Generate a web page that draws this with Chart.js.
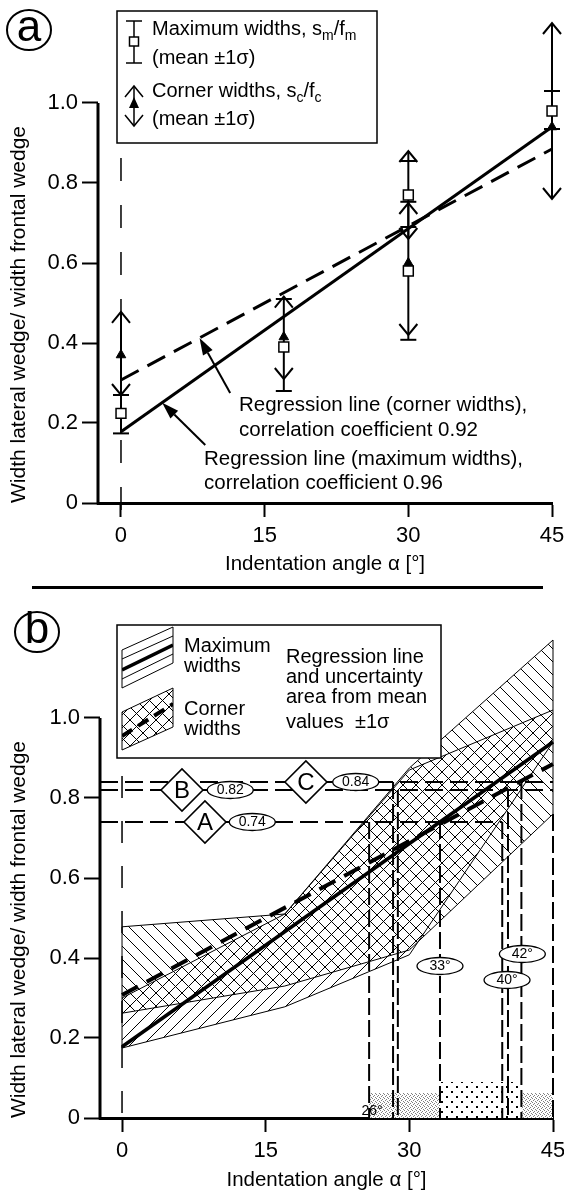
<!DOCTYPE html>
<html>
<head>
<meta charset="utf-8">
<title>Width ratio vs indentation angle</title>
<script src="https://cdn.jsdelivr.net/npm/chart.js@4.4.1/dist/chart.umd.min.js"></script>
<style>
  html, body { margin: 0; padding: 0; background: #fff; }
  body { position: relative; width: 564px; height: 1193px; overflow: hidden; }
  canvas { position: absolute; left: 0; }
  #ca { top: 0; }
  #cb { top: 590px; }
  #rule { position: absolute; left: 32px; top: 586px; width: 511px; height: 3px; background: #000; }
</style>
</head>
<body>
<canvas id="ca" width="564" height="590"></canvas>
<div id="rule"></div>
<canvas id="cb" width="564" height="603"></canvas>
<script>
const FONT = "'Liberation Sans', Arial, Helvetica, sans-serif";
Chart.defaults.font.family = FONT;
Chart.defaults.color = "#000";

// axes
const xTicks = [0, 15, 30, 45];
const yTicks = [0, 0.2, 0.4, 0.6, 0.8, 1.0];

// (a) mean and +-1 sigma per experiment
const angles = [0, 17, 30, 30, 45];
const maxMean = [0.224, 0.39, 0.77, 0.58, 0.98];
const maxLow = [0.174, 0.28, 0.69, 0.408, 0.935];
const maxHigh = [0.27, 0.51, 0.855, 0.753, 1.03];
const cornerMean = [0.37, 0.415, 0.77, 0.6, 0.94];
const cornerLow = [0.27, 0.31, 0.66, 0.42, 0.76];
const cornerHigh = [0.478, 0.516, 0.88, 0.75, 1.2];

// regression lines
const regAngles = [0, 45];
const regMax = [0.178, 0.94];
const regCorner = [0.3075, 0.885];

// (b) uncertainty areas
const bandAngles = [0, 17, 30, 45];
const maxBandHigh = [0.3, 0.51, 0.87, 1.02];
const maxBandLow = [0.175, 0.278, 0.408, 0.94];
const cornerBandHigh = [0.478, 0.51, 0.875, 1.195];
const cornerBandLow = [0.262, 0.33, 0.42, 0.76];

// (b) readings
const levelNames = ["A", "B", "C"];
const levelValues = [0.74, 0.82, 0.84];
const levelEnds = [39.7, 45, 45];
const cutAngles = [25.8, 28.3, 28.8, 33.2, 39.7, 40.3, 41.7, 45];
const cutTops = [0.74, 0.84, 0.82, 0.74, 0.74, 0.82, 0.84, 0.76];
const rangeStarts = [25.8, 33.2, 41.7];
const rangeEnds = [33.2, 41.7, 45];
const rangeHeights = [0.0625, 0.09, 0.0625];

function pts(xs, ys) {
  return xs.map((x, i) => ({ x: x, y: ys[i] }));
}

function seg(ctx, x0, y0, x1, y1) {
  ctx.beginPath();
  ctx.moveTo(x0, y0);
  ctx.lineTo(x1, y1);
  ctx.stroke();
}

function chevron(ctx, x, y, dir) {
  // dir -1 points up, +1 points down
  ctx.beginPath();
  ctx.moveTo(x - 9, y - dir * 11);
  ctx.lineTo(x, y);
  ctx.lineTo(x + 9, y - dir * 11);
  ctx.stroke();
}

function arrow(ctx, x0, y0, x1, y1) {
  const ang = Math.atan2(y1 - y0, x1 - x0);
  const L = 17, W = 5.5;
  const bx = x1 - L * Math.cos(ang), by = y1 - L * Math.sin(ang);
  seg(ctx, x0, y0, bx, by);
  ctx.beginPath();
  ctx.moveTo(x1, y1);
  ctx.lineTo(bx + W * Math.sin(ang), by - W * Math.cos(ang));
  ctx.lineTo(bx - W * Math.sin(ang), by + W * Math.cos(ang));
  ctx.closePath();
  ctx.fill();
}

function circled(ctx, letter, cx, cy) {
  ctx.save();
  ctx.strokeStyle = "#000";
  ctx.fillStyle = "#000";
  ctx.lineWidth = 2;
  ctx.beginPath();
  ctx.ellipse(cx, cy, 22, 20, 0, 0, Math.PI * 2);
  ctx.stroke();
  ctx.font = "44px " + FONT;
  ctx.textAlign = "center";
  ctx.textBaseline = "middle";
  ctx.fillText(letter, cx, cy - 1);
  ctx.restore();
}

function parts(ctx, list, x, y, size) {
  for (const [t, sub] of list) {
    ctx.font = (sub ? 14 : size) + "px " + FONT;
    ctx.fillText(t, x, sub ? y + 5 : y);
    x += ctx.measureText(t).width;
  }
}

function oval(ctx, text, cx, cy) {
  ctx.beginPath();
  ctx.ellipse(cx, cy, 23, 8.5, 0, 0, Math.PI * 2);
  ctx.fillStyle = "#fff";
  ctx.fill();
  ctx.lineWidth = 1.3;
  ctx.stroke();
  ctx.fillStyle = "#000";
  ctx.font = "14px " + FONT;
  ctx.textAlign = "center";
  ctx.textBaseline = "middle";
  ctx.fillText(text, cx, cy + 0.5);
}

function diamond(ctx, text, cx, cy) {
  const h = 21;
  ctx.beginPath();
  ctx.moveTo(cx - h, cy);
  ctx.lineTo(cx, cy - h);
  ctx.lineTo(cx + h, cy);
  ctx.lineTo(cx, cy + h);
  ctx.closePath();
  ctx.fillStyle = "#fff";
  ctx.fill();
  ctx.lineWidth = 1.6;
  ctx.stroke();
  ctx.fillStyle = "#000";
  ctx.font = "24px " + FONT;
  ctx.textAlign = "center";
  ctx.textBaseline = "middle";
  ctx.fillText(text, cx, cy + 1);
}

function tile(size, draw) {
  const c = document.createElement("canvas");
  c.width = size;
  c.height = size;
  const g = c.getContext("2d");
  draw(g, size);
  return g.createPattern(c, "repeat");
}

function hatch(up) {
  return tile(13, (g, s) => {
    g.strokeStyle = "#000";
    g.lineWidth = 1;
    g.beginPath();
    for (const o of [-s, 0, s]) {
      if (up) { g.moveTo(o, s); g.lineTo(o + s, 0); }
      else { g.moveTo(o, 0); g.lineTo(o + s, s); }
    }
    g.stroke();
  });
}

const fwdHatch = hatch(true);
const backHatch = hatch(false);
const greyDots = tile(4, (g) => {
  g.fillStyle = "#fff";
  g.fillRect(0, 0, 4, 4);
  g.fillStyle = "#808080";
  [[0, 0], [2, 1], [1, 2], [3, 3]].forEach(([a, b]) => g.fillRect(a, b, 1, 1));
});
const blackDots = tile(10, (g) => {
  g.fillStyle = "#fff";
  g.fillRect(0, 0, 10, 10);
  g.fillStyle = "#000";
  g.fillRect(1, 1, 2, 2);
  g.fillRect(6, 6, 2, 2);
});

function scales(xMin, axisWidth, axisHeight, titlePad) {
  return {
    x: {
      type: "linear",
      min: xMin,
      max: 45,
      afterBuildTicks: (s) => { s.ticks = xTicks.map((v) => ({ value: v })); },
      afterFit: (s) => { s.height = axisHeight; s.paddingLeft = 0; s.paddingRight = 0; },
      ticks: { autoSkip: false, maxRotation: 0, padding: 6, font: { size: 22 }, callback: (v) => String(v) },
      grid: { drawOnChartArea: false, tickLength: 14, tickWidth: 2, tickColor: "#000" },
      border: { display: true, width: 3, color: "#000" },
      title: { display: true, text: "Indentation angle α [°]", font: { size: 20.5 }, padding: { top: 0, bottom: titlePad } },
    },
    y: {
      type: "linear",
      min: 0,
      max: 1.2,
      afterBuildTicks: (s) => { s.ticks = yTicks.map((v) => ({ value: v })); },
      afterFit: (s) => { s.width = axisWidth; },
      ticks: { autoSkip: false, padding: 4, font: { size: 22 }, callback: (v) => (v === 0 ? "0" : v.toFixed(1)) },
      grid: { drawOnChartArea: false, tickLength: 16, tickWidth: 2, tickColor: "#000" },
      border: { display: false },
      title: { display: true, text: "Width lateral wedge/ width frontal wedge", align: "start", font: { size: 21 }, padding: { top: 7, bottom: 0 } },
    },
  };
}

function options(pad, sc) {
  return {
    responsive: false,
    animation: false,
    events: [],
    layout: { padding: pad },
    plugins: { legend: { display: false }, tooltip: { enabled: false } },
    elements: { point: { radius: 0 }, line: { tension: 0, borderColor: "#000" } },
    scales: sc,
  };
}

function lineSet(data, width, dash, extra) {
  return Object.assign({
    data: data,
    borderColor: "#000",
    borderWidth: width,
    borderDash: dash,
    pointRadius: 0,
    fill: false,
    clip: false,
  }, extra || {});
}

function yAxisLine(chart) {
  const { ctx, scales: { x, y } } = chart;
  ctx.save();
  ctx.strokeStyle = "#000";
  ctx.lineWidth = 3;
  seg(ctx, x.left, y.getPixelForValue(0) + 1.5, x.left, y.getPixelForValue(yTicks[yTicks.length - 1]));
  ctx.restore();
}

// ---------- panel a ----------
const panelA = {
  id: "panelA",
  beforeDatasetsDraw(chart) {
    const { ctx, scales: { x, y } } = chart;
    yAxisLine(chart);
    ctx.save();
    ctx.strokeStyle = "#000";
    ctx.lineWidth = 2;
    angles.forEach((a, i) => {
      const px = x.getPixelForValue(a);
      const lo = Math.min(maxLow[i], cornerLow[i]);
      const hi = Math.max(maxHigh[i], cornerHigh[i]);
      seg(ctx, px, y.getPixelForValue(lo), px, y.getPixelForValue(hi));
      seg(ctx, px - 8, y.getPixelForValue(maxLow[i]), px + 8, y.getPixelForValue(maxLow[i]));
      seg(ctx, px - 8, y.getPixelForValue(maxHigh[i]), px + 8, y.getPixelForValue(maxHigh[i]));
      chevron(ctx, px, y.getPixelForValue(cornerHigh[i]), -1);
      chevron(ctx, px, y.getPixelForValue(cornerLow[i]), 1);
    });
    ctx.restore();
  },
  afterDatasetsDraw(chart) {
    const { ctx, scales: { x, y } } = chart;
    ctx.save();
    ctx.strokeStyle = "#000";
    ctx.fillStyle = "#000";

    // pointer arrows to the regression lines
    const at = (vals, a) => vals[0] + (vals[1] - vals[0]) * (a - regAngles[0]) / (regAngles[1] - regAngles[0]);
    ctx.lineWidth = 2;
    arrow(ctx, x.getPixelForValue(11.4), y.getPixelForValue(0.275), x.getPixelForValue(8.2), y.getPixelForValue(at(regCorner, 8.2)));
    arrow(ctx, x.getPixelForValue(8.8), y.getPixelForValue(0.145), x.getPixelForValue(4.3), y.getPixelForValue(at(regMax, 4.3)));

    ctx.font = "20.5px " + FONT;
    ctx.textAlign = "left";
    ctx.textBaseline = "alphabetic";
    ctx.fillText("Regression line (corner widths),", 239, 411);
    ctx.fillText("correlation coefficient 0.92", 239, 436);
    ctx.fillText("Regression line (maximum widths),", 204, 465);
    ctx.fillText("correlation coefficient 0.96", 204, 489);

    // legend
    ctx.fillStyle = "#fff";
    ctx.fillRect(117, 11, 260, 132);
    ctx.lineWidth = 1.5;
    ctx.strokeRect(117, 11, 260, 132);
    const ix = 134;
    seg(ctx, ix, 21, ix, 63);
    seg(ctx, ix - 8, 21, ix + 8, 21);
    seg(ctx, ix - 8, 63, ix + 8, 63);
    ctx.fillRect(ix - 4.5, 37, 9, 9);
    ctx.strokeRect(ix - 4.5, 37, 9, 9);
    seg(ctx, ix, 86, ix, 126);
    chevron(ctx, ix, 86, -1);
    chevron(ctx, ix, 126, 1);
    ctx.fillStyle = "#000";
    ctx.beginPath();
    ctx.moveTo(ix, 97);
    ctx.lineTo(ix + 5, 108);
    ctx.lineTo(ix - 5, 108);
    ctx.closePath();
    ctx.fill();
    parts(ctx, [["Maximum widths, s", false], ["m", true], ["/f", false], ["m", true]], 152, 35, 20);
    parts(ctx, [["(mean ±1σ)", false]], 152, 64, 20);
    parts(ctx, [["Corner widths, s", false], ["c", true], ["/f", false], ["c", true]], 152, 97, 20);
    parts(ctx, [["(mean ±1σ)", false]], 152, 125, 20);
    ctx.restore();
    circled(ctx, "a", 29, 30);
  },
};

new Chart(document.getElementById("ca"), {
  type: "line",
  data: {
    datasets: [
      { data: pts(angles, maxMean), showLine: false, pointStyle: "rect", pointRadius: 7, pointBackgroundColor: "#fff", pointBorderColor: "#000", pointBorderWidth: 1.5, clip: false, order: 0 },
      { data: pts(angles, cornerMean), showLine: false, pointStyle: "triangle", pointRadius: 5.5, pointBackgroundColor: "#000", pointBorderColor: "#000", pointBorderWidth: 1, clip: false, order: 1 },
      lineSet(pts(regAngles, regMax), 3, [], { order: 2 }),
      lineSet(pts(regAngles, regCorner), 3, [20, 10], { order: 3 }),
      lineSet(pts([0, 0], [0.8625, -0.05]), 1.5, [23, 24], { order: 4 }),
    ],
  },
  options: options({ left: 0, right: 12, top: 23, bottom: 0 }, scales(-2.4, 98, 87, 13)),
  plugins: [panelA],
});

// ---------- panel b ----------
const xMinB = -2.3;

const panelB = {
  id: "panelB",
  beforeDatasetsDraw(chart) {
    yAxisLine(chart);
  },
  afterDatasetsDraw(chart) {
    const { ctx, scales: { x, y } } = chart;
    ctx.save();
    ctx.strokeStyle = "#000";

    const diamondAt = [8.66, 6.26, 19.2];
    const valueAt = [13.6, 11.3, 24.4];
    levelNames.forEach((n, i) => {
      const py = y.getPixelForValue(levelValues[i]);
      diamond(ctx, n, x.getPixelForValue(diamondAt[i]), py);
      oval(ctx, levelValues[i].toFixed(2), x.getPixelForValue(valueAt[i]), py);
    });

    oval(ctx, "33°", x.getPixelForValue(33.2), y.getPixelForValue(0.38));
    oval(ctx, "42°", x.getPixelForValue(41.8), y.getPixelForValue(0.41));
    oval(ctx, "40°", x.getPixelForValue(40.2), y.getPixelForValue(0.345));
    ctx.fillStyle = "#000";
    ctx.font = "14px " + FONT;
    ctx.textAlign = "center";
    ctx.textBaseline = "alphabetic";
    ctx.fillText("26°", x.getPixelForValue(26.1), y.getPixelForValue(0.008));

    // legend
    ctx.fillStyle = "#fff";
    ctx.fillRect(117, 35, 324, 133);
    ctx.lineWidth = 1.5;
    ctx.strokeRect(117, 35, 324, 133);

    const quad = (p) => {
      ctx.beginPath();
      ctx.moveTo(p[0][0], p[0][1]);
      for (let i = 1; i < p.length; i++) ctx.lineTo(p[i][0], p[i][1]);
      ctx.closePath();
    };
    const maxIcon = [[122, 60], [173, 37], [173, 73], [122, 98]];
    quad(maxIcon);
    ctx.lineWidth = 1;
    ctx.stroke();
    ctx.save();
    quad(maxIcon);
    ctx.clip();
    seg(ctx, 122, 69, 173, 46);
    seg(ctx, 122, 89, 173, 64);
    ctx.lineWidth = 3.5;
    seg(ctx, 122, 80, 173, 55);
    ctx.restore();

    const cornerIcon = [[122, 122], [173, 98], [173, 137], [122, 160]];
    quad(cornerIcon);
    ctx.fillStyle = backHatch;
    ctx.fill();
    ctx.fillStyle = fwdHatch;
    ctx.fill();
    ctx.lineWidth = 1;
    ctx.stroke();
    ctx.save();
    quad(cornerIcon);
    ctx.clip();
    ctx.lineWidth = 4;
    ctx.setLineDash([12, 7]);
    seg(ctx, 122, 146, 173, 114);
    ctx.restore();

    ctx.fillStyle = "#000";
    ctx.font = "20px " + FONT;
    ctx.textAlign = "left";
    ctx.textBaseline = "alphabetic";
    ctx.fillText("Maximum", 184, 62);
    ctx.fillText("widths", 184, 82);
    ctx.fillText("Corner", 184, 125);
    ctx.fillText("widths", 184, 145);
    ctx.fillText("Regression line", 286, 73);
    ctx.fillText("and uncertainty", 286, 93);
    ctx.fillText("area from mean", 286, 113);
    ctx.fillText("values  ±1σ", 286, 138);
    ctx.restore();
    circled(ctx, "b", 37, 42);
  },
};

const bEdges = [0, bandAngles.length - 1];
const datasetsB = [
  lineSet(pts(bandAngles, cornerBandHigh), 1, [], { fill: "+1", backgroundColor: backHatch, order: 30 }),
  lineSet(pts(bandAngles, cornerBandLow), 1, [], { order: 30 }),
  lineSet(pts(bandAngles, maxBandHigh), 1, [], { fill: "+1", backgroundColor: fwdHatch, order: 29 }),
  lineSet(pts(bandAngles, maxBandLow), 1, [], { order: 29 }),
  lineSet(pts([bandAngles[bEdges[0]], bandAngles[bEdges[0]]], [maxBandLow[0], cornerBandHigh[0]]), 1, [], { order: 28 }),
  lineSet(pts([bandAngles[bEdges[1]], bandAngles[bEdges[1]]], [cornerBandLow[bEdges[1]], cornerBandHigh[bEdges[1]]]), 1, [], { order: 28 }),
];
rangeStarts.forEach((a, i) => {
  datasetsB.push(lineSet(pts([a, rangeEnds[i]], [rangeHeights[i], rangeHeights[i]]), 0, [], {
    fill: "origin",
    backgroundColor: i === 1 ? blackDots : greyDots,
    order: 27,
  }));
});
levelValues.forEach((v, i) => {
  datasetsB.push(lineSet(pts([xMinB, levelEnds[i]], [v, v]), 2, [18, 7], { order: 10 }));
});
cutAngles.forEach((a, i) => {
  datasetsB.push(lineSet(pts([a, a], [cutTops[i], 0]), 2, [17, 5], { order: 10 }));
});
datasetsB.push(lineSet(pts([0, 0], [0.855, -0.03]), 1.5, [22, 23], { order: 9 }));
datasetsB.push(lineSet(pts(regAngles, regMax), 3.5, [], { order: 2 }));
datasetsB.push(lineSet(pts(regAngles, regCorner), 4, [18, 10], { order: 1 }));

new Chart(document.getElementById("cb"), {
  type: "line",
  data: { datasets: datasetsB },
  options: options({ left: 0, right: 11, top: 48, bottom: 0 }, scales(xMinB, 100, 75, 0)),
  plugins: [panelB],
});
</script>
</body>
</html>
